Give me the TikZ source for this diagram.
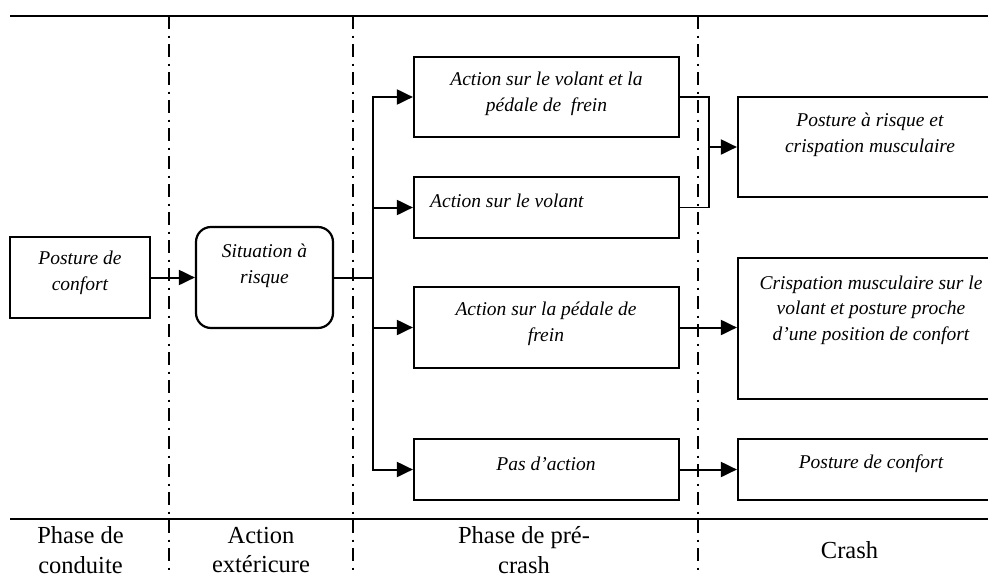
\documentclass[tikz,border=0pt]{standalone}
\usepackage{fontspec}
\setmainfont{Liberation Serif}
\usetikzlibrary{arrows.meta}
\begin{document}
\begin{tikzpicture}[x=1pt,y=-1pt,
  box/.style={draw, line width=2.2pt, inner sep=0pt},
  btxt/.style={font=\fontsize{19.5}{25.5}\selectfont\itshape, align=center, inner sep=0pt},
  ltxt/.style={font=\fontsize{24.5}{29.5}\selectfont, align=center, inner sep=0pt},
  conn/.style={line width=2pt},
  thinconn/.style={line width=1.6pt},
  arr/.style={conn, -{Triangle[length=16pt,width=15pt]}},
  phase/.style={line width=2pt, dash pattern=on 13pt off 6.5pt on 2pt off 6.5pt},
  rulestyle/.style={line width=2.4pt}]
\useasboundingbox (0,0) rectangle (988,579);
\clip (0,0) rectangle (988,579);

% rules
\draw[rulestyle] (10,16) -- (988,16);
\draw[rulestyle] (10,519) -- (988,519);
% phase separators
\draw[phase] (169,16) -- (169,575);
\draw[phase] (353,16) -- (353,575);
\draw[phase] (698,16) -- (698,575);

% boxes
\node[box, minimum width=140pt, minimum height=81pt] (p0) at (80,277.5) {};
\node[box, rounded corners=15pt, minimum width=137pt, minimum height=101pt] (sit) at (264.5,277.5) {};
\node[box, minimum width=265pt, minimum height=80pt] (a1) at (546.5,97) {};
\node[box, minimum width=265pt, minimum height=61pt] (a2) at (546.5,207.5) {};
\node[box, minimum width=265pt, minimum height=81pt] (a3) at (546.5,327.5) {};
\node[box, minimum width=265pt, minimum height=61pt] (a4) at (546.5,469.5) {};
\node[box, minimum width=266pt, minimum height=100pt] (c1) at (871,147) {};
\node[box, minimum width=266pt, minimum height=141pt] (c2) at (871,328.5) {};
\node[box, minimum width=266pt, minimum height=61pt] (c3) at (871,469.5) {};

% box texts
\node[btxt] (tp0) at (80,273) {Posture de\\confort};
\node[btxt] (tsit) at (264.5,266) {Situation à\\risque};
\node[btxt] (ta1) at (546.5,94) {Action sur le volant et la\\pédale de \ frein};
\node[btxt, anchor=west] (ta2) at (430,201) {Action sur le volant};
\node[btxt] (ta3) at (546,324) {Action sur la pédale de\\frein};
\node[btxt] (ta4) at (546,464) {Pas d’action};
\node[btxt] (tc1) at (870,135) {Posture à risque et\\crispation musculaire};
\node[btxt] (tc2) at (871,310) {Crispation musculaire sur le\\volant et posture proche\\d’une position de confort};
\node[btxt] (tc3) at (871,464) {Posture de confort};

% phase labels
\node[ltxt] (l1) at (80.5,550) {Phase de\\conduite};
\node[ltxt] (l2) at (261,550) {Action\\extéricure};
\node[ltxt] (l3) at (524,550) {Phase de pré-\\crash};
\node[ltxt] (l4) at (849.5,550) {Crash};

% connectors
\draw[arr] (p0.east) -- (sit.west);
\coordinate (tr) at (373,277.5);
\draw[conn] (sit.east) -- (tr);
\draw[arr] (tr) |- (a1.west);
\draw[arr] (tr) |- (a2.west);
\draw[arr] (tr) |- (a3.west);
\draw[arr] (tr) |- (a4.west);
\coordinate (br) at (709,147);
\draw[thinconn] (a1.east) -| (br) |- (a2.east);
\draw[arr] (br) -- (c1.west);
\draw[arr] (a3.east) -- (a3.east -| c2.west);
\draw[arr] (a4.east) -- (c3.west);
\end{tikzpicture}
\end{document}
